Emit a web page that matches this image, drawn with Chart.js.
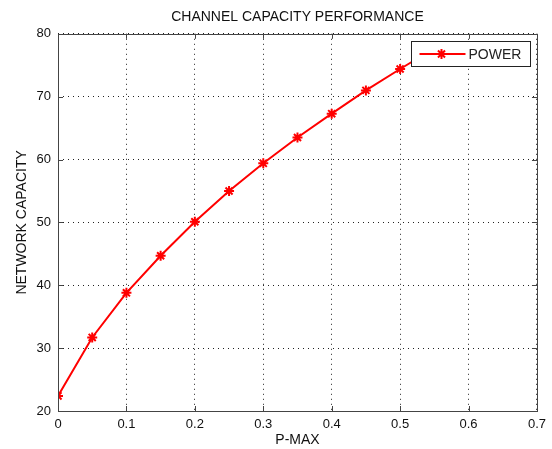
<!DOCTYPE html>
<html>
<head>
<meta charset="utf-8">
<script src="https://cdn.jsdelivr.net/npm/chart.js@4.4.0/dist/chart.umd.min.js"></script>
<style>
  html, body { margin: 0; padding: 0; background: #fff; }
  #wrap { width: 552px; height: 449px; }
</style>
</head>
<body>
<div id="wrap"><canvas id="chart" width="552" height="449"></canvas></div>
<script>
const p_max = [0, 0.05, 0.1, 0.15, 0.2, 0.25, 0.3, 0.35, 0.4, 0.45, 0.5, 0.55];
const power_capacity = [22.4, 31.7, 38.8, 44.7, 50.1, 55.0, 59.4, 63.5, 67.3, 71.0, 74.4, 77.7];
const x_ticks = [0, 0.1, 0.2, 0.3, 0.4, 0.5, 0.6, 0.7];
const y_ticks = [20, 30, 40, 50, 60, 70, 80];

const axis_color = '#444444';
const line_color = '#ff0000';
const font_family = "'Liberation Sans', Arial, sans-serif";

// matlab style: ticks pointing inward on all four sides + legend box above the line
const matlabBox = {
  id: 'matlabBox',
  afterDraw: function (chart) {
    var ctx = chart.ctx;
    var a = chart.chartArea;
    var xs = chart.scales.x, ys = chart.scales.y;
    ctx.save();
    ctx.strokeStyle = axis_color;
    ctx.lineWidth = 1;
    ctx.beginPath();
    x_ticks.forEach(function (v) {
      var px = Math.round(xs.getPixelForValue(v)) + 0.5;
      ctx.moveTo(px, a.bottom); ctx.lineTo(px, a.bottom - 5);
      ctx.moveTo(px, a.top); ctx.lineTo(px, a.top + 5);
    });
    y_ticks.forEach(function (v) {
      var py = Math.round(ys.getPixelForValue(v)) + 0.5;
      ctx.moveTo(a.left, py); ctx.lineTo(a.left + 5, py);
      ctx.moveTo(a.right, py); ctx.lineTo(a.right - 5, py);
    });
    ctx.stroke();
    ctx.strokeRect(Math.round(a.left) + 0.5, Math.round(a.top) + 0.5, Math.round(a.right - a.left), Math.round(a.bottom - a.top));

    // legend
    var bx = 411.5, by = 41.5, bw = 119, bh = 25;
    ctx.fillStyle = '#ffffff';
    ctx.fillRect(bx, by, bw, bh);
    ctx.strokeStyle = '#222222';
    ctx.strokeRect(bx, by, bw, bh);
    var my = by + bh / 2;
    ctx.strokeStyle = line_color;
    ctx.lineWidth = 2;
    ctx.beginPath();
    ctx.moveTo(bx + 8, my); ctx.lineTo(bx + 54, my);
    ctx.stroke();
    Chart.helpers.drawPoint(ctx, { pointStyle: 'star', radius: 5, borderWidth: 2, rotation: 0 }, bx + 30, my);
    ctx.fillStyle = '#222222';
    ctx.font = '14px ' + font_family;
    ctx.textBaseline = 'middle';
    ctx.fillText(chart.data.datasets[0].label, bx + 57, my + 1);
    ctx.restore();
  }
};

new Chart(document.getElementById('chart'), {
  type: 'line',
  data: {
    datasets: [{
      label: 'POWER',
      data: p_max.map(function (x, i) { return { x: x, y: power_capacity[i] }; }),
      borderColor: line_color,
      backgroundColor: line_color,
      borderWidth: 2,
      pointStyle: 'star',
      pointRadius: 5,
      pointBorderWidth: 2,
      pointBorderColor: line_color,
      tension: 0,
      clip: 0
    }]
  },
  options: {
    responsive: false,
    animation: false,
    layout: { padding: { left: 0, right: 14, top: 0, bottom: 0 } },
    plugins: {
      legend: { display: false },
      tooltip: { enabled: false },
      title: {
        display: true,
        fullSize: false,
        text: 'CHANNEL CAPACITY PERFORMANCE',
        color: '#111111',
        font: { family: font_family, size: 14, weight: 'normal' },
        padding: { top: 9, bottom: 8 }
      }
    },
    scales: {
      x: {
        type: 'linear',
        min: 0, max: 0.7,
        afterBuildTicks: function (s) { s.ticks = x_ticks.map(function (v) { return { value: v }; }); },
        afterFit: function (s) { s.height = 38; },
        grid: { color: '#222222', lineWidth: 1, drawTicks: false },
        border: { display: false, dash: [1, 4] },
        ticks: { color: '#111111', padding: 6, font: { family: font_family, size: 13 }, maxRotation: 0,
          callback: function (v) { return String(v); } },
        title: { display: true, text: 'P-MAX', color: '#111111', padding: { top: 0, bottom: 0 },
          font: { family: font_family, size: 14 } }
      },
      y: {
        type: 'linear',
        min: 20, max: 80,
        afterBuildTicks: function (s) { s.ticks = y_ticks.map(function (v) { return { value: v }; }); },
        afterFit: function (s) { s.width = 58; },
        grid: { color: '#222222', lineWidth: 1, drawTicks: false },
        border: { display: false, dash: [1, 4] },
        ticks: { color: '#111111', padding: 7, font: { family: font_family, size: 13 } },
        title: { display: true, text: 'NETWORK CAPACITY', color: '#111111', padding: { top: 14, bottom: 0 },
          font: { family: font_family, size: 14 } }
      }
    }
  },
  plugins: [matlabBox]
});
</script>
</body>
</html>
